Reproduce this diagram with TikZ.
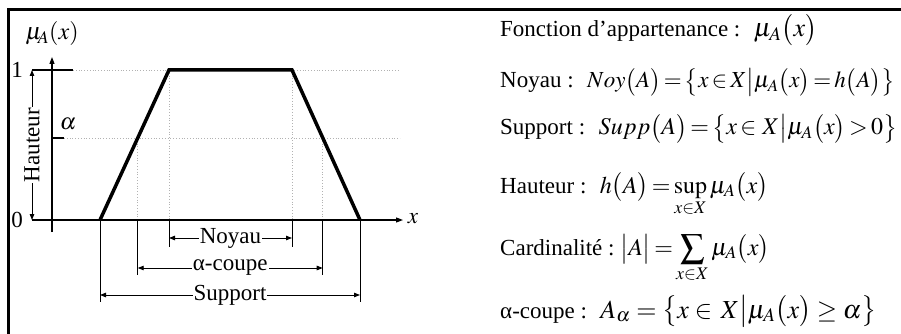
\documentclass[tikz,border=0pt]{standalone}
\usepackage{mathptmx}
\usepackage{fontspec}
\setmainfont{Liberation Serif}
\usetikzlibrary{arrows.meta}
\begin{document}
\thickmuskip=2.5mu plus 1mu
\medmuskip=2mu plus 1mu
\begin{tikzpicture}[x=1pt,y=-1pt,font=\fontsize{23}{27}\selectfont,
  ax/.style={line width=1.1pt},
  thin/.style={line width=0.9pt},
  dim/.style={line width=0.9pt,{Triangle[length=6pt,width=4.5pt]}-{Triangle[length=6pt,width=4.5pt]}},
  dotl/.style={gray!60,line width=0.8pt,dotted},
  lbl/.style={fill=white,inner sep=1pt},
  deftxt/.style={anchor=base west,inner sep=0pt}]
\useasboundingbox (0,0) rectangle (901,334);
\clip (0,0) rectangle (901,334);
% frame
\draw[line width=2.5pt] (8.5,345) -- (8.5,9.5) -- (910,9.5);
% key points
\coordinate (s1) at (100,220);
\coordinate (k1) at (169,70);
\coordinate (k2) at (292,70);
\coordinate (s2) at (360,220);
\coordinate (a1) at (137.7,138);
\coordinate (a2) at (322.7,138);
\coordinate (k1b) at (169,220);
\coordinate (k2b) at (292,220);
\coordinate (a1b) at (137.7,220);
\coordinate (a2b) at (322.7,220);
% dotted guides
\draw[dotl] (73,70) -- (400,70);
\draw[dotl] (64,138) -- (400,138);
\draw[dotl] (k1) -- (k1b);
\draw[dotl] (k2) -- (k2b);
\draw[dotl] (a1) -- (a1b);
\draw[dotl] (a2) -- (a2b);
% axes
\coordinate (ybot) at (52,232);
\coordinate (ytop) at (52,57);
\coordinate (xl) at (32,220);
\coordinate (xr) at (403,220);
\draw[ax,-{Triangle[length=7pt,width=5pt]}] (ybot) -- (ytop);
\draw[ax,-{Triangle[length=7pt,width=5pt]}] (xl) -- (xr);
% ticks
\draw[ax] (32,70) -- (73,70);
\draw[ax] (52,138) -- (64,138);
% hauteur
\coordinate (h1) at (32,70);
\coordinate (h0) at (32,220);
\draw[dim] (h1) -- (h0) node[midway,lbl,rotate=90] (haut) {Hauteur};
% labels
\node (one) at (17,70) {1};
\node (zero) at (17,220) {0};
\node (alph) at (68,124) {$\alpha$};
\node[font=\fontsize{24}{28}\selectfont] (mu) at (52,34) {$\mu_{\!A}(x)$};
\node (xlab) at (413,219) {$x$};
% trapezoid
\draw[line width=3.5pt,line join=miter] (s1) -- (k1) -- (k2) -- (s2);
% vertical extension lines
\draw[thin] (k1b) -- (169,247);
\draw[thin] (k2b) -- (292,247);
\draw[thin] (a1b) -- (137.7,275);
\draw[thin] (a2b) -- (322.7,275);
\draw[thin] (s1) -- (100,302);
\draw[thin] (s2) -- (360,302);
% dimension arrows
\draw[dim] (169,238) -- (292,238) node[midway,lbl] (noy) {Noyau};
\draw[dim] (137.7,268) -- (322.7,268) node[midway,lbl] (acp) {α-coupe};
\draw[dim] (100,295) -- (360,295) node[midway,lbl] (sup) {Support};
% definitions
\node[deftxt] (t1) at (500,37) {Fonction d’appartenance :~ {\fontsize{26}{30}\selectfont$\mu_A\bigl(x\bigr)$}};
\node[deftxt] (t2) at (500,88) {Noyau :~ {\fontsize{23}{27}\selectfont$Noy\bigl(A\bigr)=\bigl\{x\in X\big|\mu_A\bigl(x\bigr)=h\bigl(A\bigr)\bigr\}$}};
\node[deftxt] (t3) at (500,135) {Support :~ {\fontsize{24}{28}\selectfont$Supp\bigl(A\bigr)=\bigl\{x\in\,X\big|\mu_A\bigl(x\bigr)>0\bigr\}$}};
\node[deftxt] (t4) at (500,193) {Hauteur :~ {\fontsize{24}{28}\selectfont$h\bigl(A\bigr)=\sup\limits_{x\in X}\mu_A\bigl(x\bigr)$}};
\node[deftxt] (t5) at (500,255) {Cardinalité :~{\fontsize{24}{28}\selectfont$\bigl|A\bigr|=\displaystyle\sum_{x\in X}\mu_A\bigl(x\bigr)$}};
\node[deftxt] (t6) at (500,318) {α-coupe :~ {\fontsize{26}{30}\selectfont\thickmuskip=4mu plus 2mu$A_\alpha=\bigl\{x\in\,X\big|\mu_A\bigl(x\bigr)\ge\alpha\bigr\}$}};
\end{tikzpicture}
\end{document}
